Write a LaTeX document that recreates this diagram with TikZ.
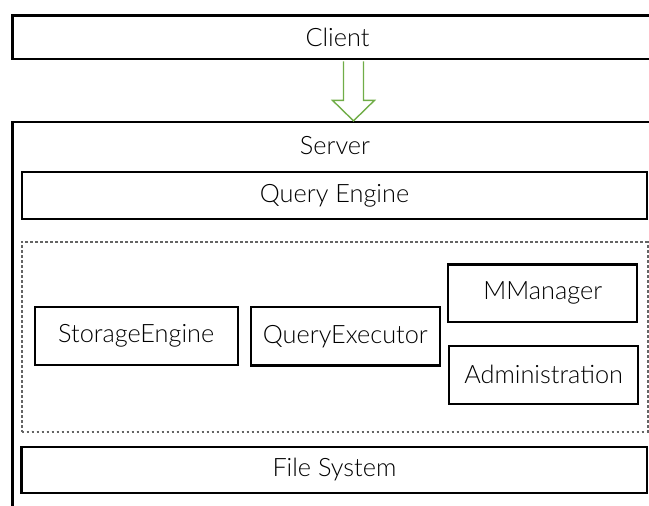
\documentclass[tikz,border=0pt]{standalone}
\usepackage{fontspec}
\setmainfont{Lato Light}
\usetikzlibrary{calc}
\definecolor{arrowgreen}{RGB}{112,173,71}
\definecolor{dashgreen}{RGB}{112,173,71}
\definecolor{dashgray}{RGB}{100,100,100}
\begin{document}
\begin{tikzpicture}[x=1pt,y=-1pt,
  box/.style={draw=black, line width=2.3pt, inner sep=0pt, rectangle,
    font=\fontsize{25.3}{28}\selectfont},
  label text/.style={inner sep=0pt, font=\fontsize{25.3}{28}\selectfont},
  group/.style={rectangle, inner sep=0pt, draw=dashgray, line width=2pt,
    dash pattern=on 2.6pt off 2.4pt,
    preaction={draw=dashgreen, line width=1.6pt}},
  flow/.style={draw=arrowgreen, line width=1.4pt, fill=white, line join=miter}]
\useasboundingbox (0,0) rectangle (649,506);
\clip (0,0) rectangle (649,506);

% outer layers
\node[box, minimum width=650pt, minimum height=43.5pt] (client) at (337.5,37.25) {Client};
\node[box, minimum width=650pt, minimum height=478pt] (server) at (337.5,361) {};
\node[label text] (servername) at (335,146) {Server};

% server internals
\node[box, minimum width=625pt, minimum height=47pt] (query) at (334.5,195.8) {Query Engine};
\node[group, minimum width=626pt, minimum height=189.5pt] (core) at (334.5,336.75) {};
\node[box, minimum width=203pt, minimum height=58.6pt] (storage) at (136.2,336) {StorageEngine};
\node[box, minimum width=189.3pt, minimum height=58.4pt] (executor) at (345.35,336.2) {QueryExecutor};
\node[box, minimum width=189pt, minimum height=57.5pt] (mmanager) at (542.8,293.25) {MManager};
\node[box, minimum width=189.3pt, minimum height=58.3pt] (admin) at (543.65,374.85) {Administration};
\node[box, minimum width=625.8pt, minimum height=46.6pt] (fs) at (334.4,470) {File System};

% request arrow from client down to server (block arrow outline)
\coordinate (tip) at ($(server.north)+(16,0)$);
\coordinate (tail) at ($(client.south)+(16,1.2)$);
\coordinate (neck) at ($(tip)+(0,-20.5)$);
\draw[flow] ($(tail)+(-10,0)$) -- ($(neck)+(-10,0)$) -- ($(neck)+(-21,0)$)
  -- (tip) -- ($(neck)+(21,0)$) -- ($(neck)+(10,0)$) -- ($(tail)+(10,0)$);
\end{tikzpicture}
\end{document}
